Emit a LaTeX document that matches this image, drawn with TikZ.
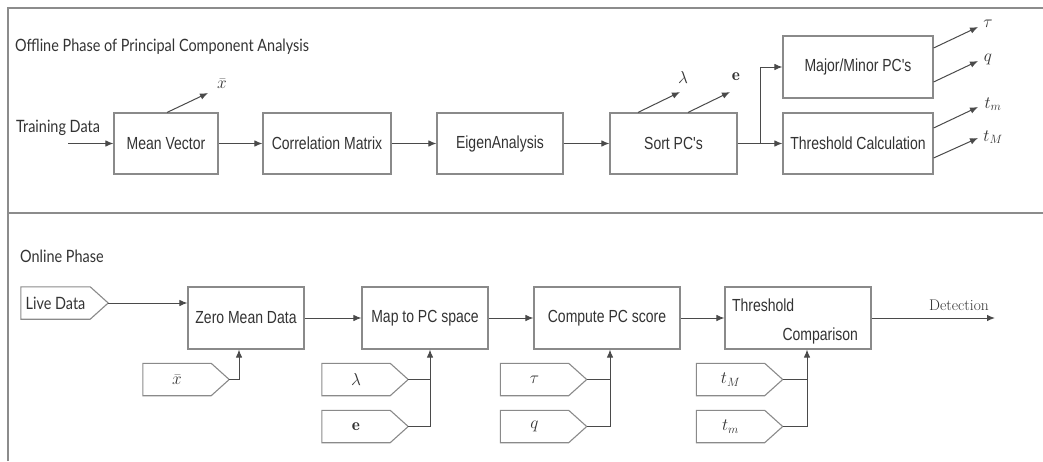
\documentclass[tikz,border=0pt]{standalone}
\usepackage{fontspec}
\newfontfamily\boxfont[FakeStretch=0.8]{Liberation Sans}
\newfontfamily\headfont[FakeStretch=0.85]{Lato}
\usetikzlibrary{arrows.meta}
\definecolor{boxgray}{HTML}{8A8A8A}
\definecolor{linegray}{HTML}{4A4A4A}
\definecolor{framegray}{HTML}{8C8C8C}
\definecolor{txt}{HTML}{333333}
% outline of an input tag: rectangle body with a pointed right end
\newcommand\tagoutline[1]{%
  \draw[tagline] (#1.north west) -- (#1.north east) -- ([xshift=18pt]#1.east)
    -- (#1.south east) -- (#1.south west) -- cycle;
  \coordinate (#1-tip) at ([xshift=18pt]#1.east);}
\begin{document}
\begin{tikzpicture}[x=1pt,y=-1pt,
  box/.style={draw=boxgray, line width=1.1pt, inner sep=0pt,
    font=\boxfont\fontsize{17.5}{20}\selectfont, text=txt},
  arr/.style={draw=linegray, line width=1pt, -{Latex[length=8pt,width=6.5pt]}},
  wire/.style={draw=linegray, line width=1pt},
  frame/.style={draw=framegray, line width=2.5pt},
  head/.style={font=\headfont\fontsize{17}{20}\selectfont, text=txt, inner sep=0pt},
  sym/.style={font=\fontsize{17.28}{20}\selectfont, text=txt, inner sep=0pt},
  tagbody/.style={minimum width=68pt, minimum height=32pt, inner sep=0pt,
    text=txt, font=\fontsize{17.28}{20}\selectfont},
  tagline/.style={draw=boxgray, line width=1.1pt}
]
\useasboundingbox (0,0) rectangle (1043,461);

% frame and separator
\draw[frame] (8,461) -- (8,8) -- (1043,8);
\draw[frame] (8,213) -- (1043,213);

% ---------------- offline phase ----------------
\node[head, anchor=west] (offtitle) at (15,47) {Offline Phase of Principal Component Analysis};
\node[head, anchor=west] (train) at (16,128) {Training Data};
\coordinate (trainin) at (68,143.5);

\node[box, minimum width=104pt, minimum height=61pt] (mv) at (166,143.5) {Mean Vector};
\node[box, minimum width=128pt, minimum height=61pt] (cm) at (327,143.5) {Correlation Matrix};
\node[box, minimum width=126pt, minimum height=61pt] (ea) at (500,143.5) {EigenAnalysis};
\node[box, minimum width=127pt, minimum height=61pt] (sp) at (673.5,143.5) {Sort PC's};
\node[box, minimum width=150pt, minimum height=62pt] (mm) at (858,67) {Major/Minor PC's};
\node[box, minimum width=150pt, minimum height=61pt] (tc) at (858,143.5) {Threshold Calculation};

\draw[arr] (trainin) -- (mv.west);
\draw[arr] (mv) -- (cm);
\draw[arr] (cm) -- (ea);
\draw[arr] (ea) -- (sp);
\coordinate (branch) at (760,143.5);
\draw[wire] (sp.east) -- (branch);
\draw[arr] (branch) -- (tc.west);
\draw[arr] (branch) |- (mm.west);

% outputs of the offline stages
\coordinate (xbo) at (208,93);
\node[sym] (xbl) at (222,84) {$\bar{x}$};
\draw[arr] ([xshift=1pt]mv.north) -- (xbo);

\coordinate (lamo) at (680,92);
\node[sym] (laml) at (683,77) {$\lambda$};
\draw[arr] ([xshift=-35.5pt]sp.north) -- (lamo);
\coordinate (eo) at (730,92);
\node[sym] (el) at (736,77) {$\mathbf{e}$};
\draw[arr] ([xshift=14.5pt]sp.north) -- (eo);

\coordinate (tauo) at (978,27);
\node[sym] (taul) at (988,24) {$\tau$};
\draw[arr] ([yshift=19pt]mm.east) -- (tauo);
\coordinate (qo) at (978,61);
\node[sym] (ql) at (988,59) {$q$};
\draw[arr] ([yshift=-15pt]mm.east) -- (qo);
\coordinate (tmo) at (978,107);
\node[sym] (tml) at (993,104) {$t_m$};
\draw[arr] ([yshift=15.5pt]tc.east) -- (tmo);
\coordinate (tMo) at (978,138);
\node[sym] (tMl) at (993,137) {$t_M$};
\draw[arr] ([yshift=-14.5pt]tc.east) -- (tMo);

% ---------------- online phase ----------------
\node[head, anchor=west] (ontitle) at (20,256) {Online Phase};

\node[tagbody, minimum width=69pt, font=\headfont\fontsize{17}{20}\selectfont] (live) at (55.5,303) {Live Data};
\tagoutline{live}

\node[box, minimum width=116pt, minimum height=62pt] (zm) at (246,318) {Zero Mean Data};
\node[box, minimum width=126pt, minimum height=62pt] (mp) at (425,318) {Map to PC space};
\node[box, minimum width=146pt, minimum height=62pt] (cs) at (607,318) {Compute PC score};
\node[box, minimum width=146pt, minimum height=62pt] (tcmp) at (798,318) {};
\node[box, draw=none, anchor=west] (tcmp1) at ([xshift=7pt,yshift=13pt]tcmp.west) {Threshold};
\node[box, draw=none, anchor=east] (tcmp2) at ([xshift=-13pt,yshift=-18pt]tcmp.east) {Comparison};

\draw[arr] (live-tip) -- (live-tip -| zm.west);
\draw[arr] (zm) -- (mp);
\draw[arr] (mp) -- (cs);
\draw[arr] (cs) -- (tcmp);
\coordinate (det) at (995,318);
\draw[arr] (tcmp.east) -- (det);
\node[font=\fontsize{15.5}{18}\selectfont, text=txt, inner sep=0pt] (detl) at (959,305) {Detection};

% input tags
\node[tagbody] (xbt) at (177,379.5) {$\bar{x}$};
\tagoutline{xbt}
\draw[arr] (xbt-tip) -| ([xshift=-7pt]zm.south);

\node[tagbody] (lamt) at (356,379.5) {$\lambda$};
\tagoutline{lamt}
\node[tagbody] (et) at (356,426.5) {$\mathbf{e}$};
\tagoutline{et}
\draw[arr] (lamt-tip) -| ([xshift=5pt]mp.south);
\draw[wire] (et-tip) -| ([xshift=5pt]mp.south |- lamt-tip);

\node[tagbody] (taut) at (534.5,379.5) {$\tau$};
\tagoutline{taut}
\node[tagbody] (qt) at (534.5,426.5) {$q$};
\tagoutline{qt}
\draw[arr] (taut-tip) -| ([xshift=3pt]cs.south);
\draw[wire] (qt-tip) -| ([xshift=3pt]cs.south |- taut-tip);

\node[tagbody] (tMt) at (730.5,379.5) {$t_M$};
\tagoutline{tMt}
\node[tagbody] (tmt) at (730.5,426.5) {$t_m$};
\tagoutline{tmt}
\draw[arr] (tMt-tip) -| ([xshift=9pt]tcmp.south);
\draw[wire] (tmt-tip) -| ([xshift=9pt]tcmp.south |- tMt-tip);
\end{tikzpicture}
\end{document}
